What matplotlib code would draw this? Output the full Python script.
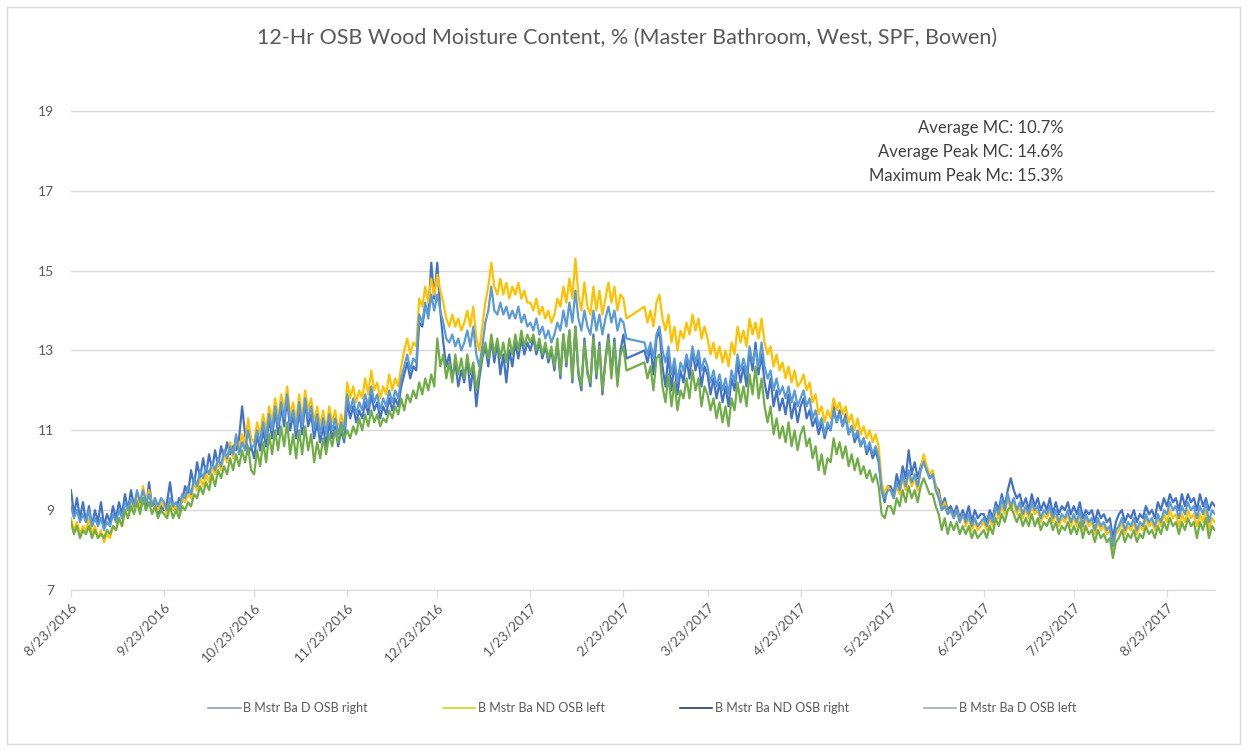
import numpy as np
import pandas as pd
import matplotlib.pyplot as plt
from matplotlib.lines import Line2D
from matplotlib.patches import Rectangle

# daily readings, 8/23/2016 - 9/8/2017 (logger offline 2/25 - 3/1)
day_start = '2016-08-23'
day_end = '2017-09-08'
gap_start = '2017-02-25'
gap_end = '2017-03-01'

d_osb_right = [
    9.5, 8.9, 9.3, 8.8, 9.2, 8.7, 9.1, 8.6, 9.0, 8.7, 9.2, 8.6, 8.9, 8.7, 9.1, 8.8, 9.2, 8.9, 9.4, 9.0, 9.5, 9.1, 9.4, 9.0, 9.3, 9.0, 9.7, 9.1, 9.2, 8.9, 9.1,
    9.0, 9.2, 9.7, 9.1, 9.0, 9.3, 9.2, 9.6, 9.4, 10.0, 9.6, 10.2, 9.8, 10.3, 9.9, 10.4, 10.0, 10.5, 10.1, 10.6, 10.3, 10.7, 10.4, 10.6, 10.5, 10.8, 11.6, 10.9, 10.4, 10.6,
    10.3, 10.9, 10.5, 11.0, 10.6, 11.3, 10.8, 11.5, 10.9, 11.6, 11.1, 11.8, 11.0, 11.4, 10.8, 11.5, 10.9, 11.7, 11.1, 11.4, 10.8, 11.2, 10.7, 11.1, 10.6, 11.2, 10.8, 11.1, 10.6, 11.0, 10.7,
    11.7, 11.3, 11.6, 11.2, 11.5, 11.3, 11.7, 11.4, 11.9, 11.5, 11.7, 11.3, 11.6, 11.4, 11.8, 11.5, 11.8, 11.6, 12.1, 12.4, 12.7, 12.3, 12.6, 12.5, 13.7, 13.6, 14.1, 13.9, 15.2, 14.3,
    15.2, 14.0, 13.2, 12.6, 12.9, 12.3, 12.7, 12.1, 12.5, 12.2, 12.8, 12.0, 12.6, 11.6, 12.3, 12.8, 13.1, 12.6, 13.3, 12.7, 13.2, 12.4, 12.9, 12.2, 13.0, 12.6, 13.2, 12.8, 13.3, 12.9, 13.2,
    13.0, 13.3, 12.9, 13.2, 12.8, 13.1, 12.7, 13.0, 12.5, 13.2, 12.3, 13.4, 12.6, 13.5, 12.2, 13.6, 12.4, 12.0, 13.3, 12.5, 12.1, 13.4, 12.3, 13.2, 11.9, 12.8, 13.4, 12.4, 13.3, 12.2, 13.0,
    13.4, 12.8, 13.0, 12.7, 13.1, 12.4, 13.3, 13.5, 12.6, 12.1, 12.9, 12.0, 12.7, 11.9, 12.5, 12.2, 12.8, 12.3, 13.0, 12.5, 12.8, 12.1, 12.6,
    12.4, 11.9, 12.3, 11.8, 12.2, 11.7, 12.1, 11.6, 12.3, 12.0, 12.7, 12.2, 12.6, 12.1, 13.0, 12.5, 13.2, 12.4, 12.9, 12.2, 11.8, 12.3, 11.6, 12.0, 11.5, 11.8, 11.4, 11.9, 11.3, 11.7, 11.2,
    11.6, 11.8, 11.3, 11.5, 11.1, 11.3, 10.9, 11.2, 10.8, 11.1, 11.0, 11.6, 11.2, 11.5, 11.1, 11.4, 10.9, 11.1, 10.7, 10.9, 10.6, 10.8, 10.4, 10.6, 10.3, 10.5, 10.2, 9.5, 9.2, 9.6,
    9.6, 9.4, 9.9, 9.6, 10.1, 9.8, 10.5, 9.9, 10.2, 9.8, 10.1, 10.3, 10.0, 9.8, 9.9, 9.6, 9.5, 9.1, 9.3, 9.0, 9.1, 8.9, 9.1, 8.8, 9.0, 8.8, 9.1, 8.7, 9.0, 8.8, 8.9,
    8.9, 8.7, 9.0, 8.8, 9.2, 9.0, 9.4, 9.1, 9.5, 9.8, 9.5, 9.3, 9.4, 9.1, 9.3, 9.0, 9.4, 9.1, 9.3, 9.0, 9.2, 9.0, 9.3, 8.9, 9.2, 8.9, 9.1, 9.0, 9.2, 8.9,
    9.1, 8.9, 9.2, 8.8, 9.0, 8.9, 9.0, 8.7, 9.0, 8.8, 8.9, 8.7, 8.8, 8.3, 8.7, 8.9, 9.0, 8.7, 8.9, 8.8, 9.0, 8.7, 8.9, 8.8, 9.1, 8.9, 9.0, 8.8, 9.2, 9.0, 9.3,
    9.1, 9.4, 9.2, 9.3, 9.0, 9.4, 9.1, 9.4, 9.2, 9.3, 9.0, 9.4, 9.1, 9.3, 9.0, 9.2, 9.1,
]

nd_osb_left = [
    8.8, 8.5, 8.7, 8.4, 8.6, 8.5, 8.8, 8.4, 8.6, 8.3, 8.5, 8.2, 8.4, 8.3, 8.6, 8.5, 8.8, 8.6, 9.0, 8.8, 9.2, 9.0, 9.4, 9.1, 9.6, 9.2, 9.5, 9.1, 9.3, 9.0, 9.2,
    9.1, 8.9, 9.2, 9.0, 9.1, 8.9, 9.3, 9.2, 9.4, 9.3, 9.7, 9.5, 9.8, 9.6, 9.9, 9.7, 10.1, 9.9, 10.2, 10.0, 10.4, 10.2, 10.7, 10.3, 10.8, 10.5, 10.9, 10.6, 11.3, 10.8,
    10.7, 11.2, 10.9, 11.4, 11.0, 11.6, 11.2, 11.8, 11.3, 11.9, 11.5, 12.1, 11.4, 11.7, 11.2, 11.9, 11.3, 12.0, 11.5, 11.8, 11.2, 11.6, 11.1, 11.5, 11.0, 11.6, 11.2, 11.5, 11.0, 11.4, 11.1,
    12.2, 11.8, 12.1, 11.7, 12.0, 11.8, 12.3, 11.9, 12.5, 12.0, 12.2, 11.8, 12.1, 11.9, 12.4, 12.0, 12.3, 12.1, 12.6, 13.0, 13.3, 12.9, 13.2, 13.1, 14.3, 14.1, 14.6, 14.2, 14.8, 14.4,
    14.9, 14.5, 14.2, 13.8, 13.6, 13.9, 13.6, 13.8, 13.5, 13.7, 14.0, 13.6, 14.1, 13.3, 13.0, 13.6, 14.2, 14.6, 15.2, 14.6, 14.4, 14.8, 14.4, 14.7, 14.3, 14.6, 14.4, 14.7, 14.3, 14.5, 14.2,
    14.2, 14.0, 14.3, 13.9, 14.1, 13.8, 14.0, 13.7, 13.9, 14.3, 14.1, 14.6, 14.2, 14.8, 14.3, 15.3, 14.4, 14.0, 14.7, 14.1, 13.9, 14.6, 14.0, 14.5, 13.9, 14.3, 14.7, 14.2, 14.6, 14.0, 14.4,
    14.3, 13.8, 14.1, 13.7, 14.0, 13.6, 14.2, 14.4, 13.8, 13.5, 13.9, 13.2, 13.6, 13.0, 13.5, 13.3, 13.7, 13.4, 13.9, 13.5, 13.8, 13.3, 13.6,
    13.3, 12.9, 13.2, 12.8, 13.1, 12.7, 13.0, 12.6, 13.2, 12.9, 13.6, 13.2, 13.5, 13.1, 13.8, 13.4, 13.7, 13.3, 13.8, 13.2, 12.9, 13.1, 12.6, 12.9, 12.5, 12.7, 12.3, 12.6, 12.2, 12.5, 12.1,
    12.2, 12.4, 12.0, 12.2, 11.7, 11.9, 11.4, 11.6, 11.2, 11.5, 11.3, 11.8, 11.5, 11.7, 11.4, 11.6, 11.2, 11.4, 11.0, 11.3, 10.9, 11.1, 10.8, 11.0, 10.7, 10.9, 10.6, 9.7, 9.4, 9.6,
    9.5, 9.3, 9.6, 9.4, 9.8, 9.5, 9.9, 9.6, 9.8, 9.5, 10.0, 10.4, 10.1, 9.9, 10.0, 9.6, 9.4, 9.0, 9.2, 8.9, 9.0, 8.8, 9.0, 8.7, 8.9, 8.6, 8.8, 8.5, 8.7, 8.5, 8.6,
    8.7, 8.5, 8.8, 8.6, 9.0, 8.8, 9.1, 8.9, 9.3, 9.0, 9.2, 8.9, 9.1, 8.8, 9.0, 8.8, 9.1, 8.9, 9.0, 8.7, 8.9, 8.8, 9.0, 8.7, 8.9, 8.6, 8.8, 8.7, 8.9, 8.6,
    8.8, 8.6, 8.9, 8.5, 8.8, 8.6, 8.7, 8.4, 8.7, 8.5, 8.6, 8.4, 8.5, 8.0, 8.4, 8.5, 8.7, 8.4, 8.6, 8.5, 8.7, 8.4, 8.6, 8.5, 8.8, 8.6, 8.7, 8.5, 8.8, 8.6, 8.9,
    8.7, 9.0, 8.8, 8.9, 8.6, 8.9, 8.7, 9.0, 8.8, 8.9, 8.6, 8.9, 8.7, 9.0, 8.5, 8.8, 8.7,
]

nd_osb_right = [
    9.1, 8.8, 9.0, 8.7, 8.9, 8.7, 9.0, 8.6, 8.8, 8.6, 8.8, 8.5, 8.7, 8.6, 8.9, 8.7, 9.0, 8.8, 9.2, 9.0, 9.3, 9.1, 9.5, 9.2, 9.5, 9.2, 9.4, 9.1, 9.3, 9.1, 9.3,
    9.2, 9.0, 9.3, 9.1, 9.2, 9.0, 9.4, 9.3, 9.6, 9.4, 9.8, 9.6, 10.0, 9.8, 10.1, 9.9, 10.2, 10.0, 10.3, 10.1, 10.5, 10.3, 10.6, 10.4, 10.9, 10.4, 10.7, 10.5, 11.0, 10.6,
    10.6, 11.0, 10.7, 11.2, 10.8, 11.4, 11.0, 11.6, 11.1, 11.7, 11.3, 11.9, 11.2, 11.5, 11.0, 11.7, 11.1, 11.8, 11.3, 11.6, 11.0, 11.4, 10.9, 11.3, 10.9, 11.4, 11.0, 11.3, 10.9, 11.2, 11.0,
    11.9, 11.5, 11.8, 11.4, 11.7, 11.5, 11.9, 11.6, 12.1, 11.7, 11.9, 11.5, 11.8, 11.6, 12.0, 11.7, 12.0, 11.8, 12.3, 12.6, 12.9, 12.5, 12.8, 12.7, 13.9, 13.7, 14.2, 13.8, 14.4, 14.0,
    14.4, 14.0, 13.7, 13.3, 13.2, 13.4, 13.1, 13.3, 13.0, 13.2, 13.5, 13.1, 13.6, 12.9, 12.6, 13.1, 13.7, 14.0, 14.6, 14.0, 13.9, 14.2, 13.9, 14.1, 13.8, 14.0, 13.8, 14.1, 13.7, 13.9, 13.6,
    13.7, 13.5, 13.8, 13.4, 13.6, 13.3, 13.5, 13.2, 13.4, 13.7, 13.5, 14.0, 13.6, 14.2, 13.7, 14.5, 13.8, 13.5, 14.0, 13.6, 13.4, 14.0, 13.5, 13.9, 13.4, 13.8, 14.1, 13.7, 14.0, 13.5, 13.8,
    13.7, 13.3, 13.2, 12.9, 13.2, 12.8, 13.4, 13.6, 13.0, 12.7, 13.1, 12.4, 12.8, 12.2, 12.7, 12.5, 12.9, 12.6, 13.1, 12.7, 13.0, 12.5, 12.8,
    12.6, 12.2, 12.5, 12.1, 12.4, 12.0, 12.3, 11.9, 12.5, 12.2, 12.9, 12.5, 12.8, 12.4, 13.1, 12.7, 13.0, 12.6, 13.2, 12.6, 12.3, 12.5, 12.0, 12.3, 11.9, 12.1, 11.8, 12.1, 11.7, 12.0, 11.6,
    11.8, 12.0, 11.6, 11.8, 11.3, 11.5, 11.1, 11.3, 10.9, 11.2, 11.0, 11.5, 11.2, 11.4, 11.1, 11.3, 10.9, 11.1, 10.8, 11.0, 10.6, 10.8, 10.5, 10.7, 10.4, 10.6, 10.3, 9.5, 9.3, 9.5,
    9.5, 9.3, 9.7, 9.5, 9.9, 9.6, 10.0, 9.7, 9.9, 9.6, 10.0, 10.2, 10.0, 9.8, 9.9, 9.5, 9.3, 9.0, 9.1, 8.9, 9.0, 8.8, 9.0, 8.7, 8.9, 8.7, 8.9, 8.6, 8.8, 8.6, 8.7,
    8.8, 8.6, 8.9, 8.7, 9.1, 8.9, 9.3, 9.0, 9.4, 9.1, 9.3, 9.0, 9.2, 8.9, 9.1, 8.9, 9.2, 9.0, 9.1, 8.8, 9.0, 8.9, 9.1, 8.8, 9.0, 8.7, 8.9, 8.8, 9.0, 8.7,
    8.9, 8.7, 9.0, 8.6, 8.9, 8.7, 8.8, 8.5, 8.8, 8.6, 8.7, 8.5, 8.6, 8.1, 8.5, 8.6, 8.8, 8.5, 8.7, 8.6, 8.8, 8.5, 8.7, 8.6, 8.9, 8.7, 8.8, 8.6, 8.9, 8.7, 9.0,
    8.9, 9.2, 9.0, 9.1, 8.8, 9.1, 8.9, 9.2, 9.0, 9.1, 8.8, 9.1, 8.9, 9.2, 8.7, 9.0, 8.9,
]

d_osb_left = [
    8.7, 8.4, 8.6, 8.3, 8.5, 8.4, 8.6, 8.3, 8.5, 8.3, 8.4, 8.3, 8.5, 8.4, 8.6, 8.5, 8.8, 8.6, 9.0, 8.8, 9.1, 8.9, 9.2, 8.9, 9.3, 9.0, 9.2, 8.9, 9.1, 8.8, 9.0,
    8.9, 8.8, 9.1, 8.8, 9.0, 8.8, 9.1, 9.0, 9.2, 9.1, 9.4, 9.3, 9.6, 9.4, 9.7, 9.5, 9.9, 9.6, 10.0, 9.8, 10.1, 9.9, 10.3, 10.0, 10.4, 10.1, 10.5, 10.2, 10.6, 10.0,
    9.9, 10.5, 10.1, 10.7, 10.2, 10.9, 10.4, 11.0, 10.5, 11.1, 10.6, 11.2, 10.4, 10.9, 10.3, 11.0, 10.4, 11.1, 10.5, 10.9, 10.2, 10.7, 10.3, 10.8, 10.4, 10.9, 10.6, 11.0, 10.7, 11.1, 10.8,
    11.0, 10.8, 11.1, 10.9, 11.3, 11.0, 11.4, 11.1, 11.5, 11.2, 11.4, 11.1, 11.3, 11.2, 11.5, 11.3, 11.6, 11.4, 11.8, 11.5, 11.9, 11.7, 12.0, 11.8, 12.2, 11.9, 12.3, 12.0, 12.4, 12.1,
    13.3, 12.6, 12.9, 12.3, 12.7, 12.2, 12.9, 12.4, 12.8, 12.3, 12.9, 12.4, 12.7, 12.0, 12.5, 12.9, 13.2, 12.8, 13.4, 12.9, 13.3, 12.8, 13.2, 12.7, 13.3, 12.9, 13.4, 13.0, 13.5, 13.1, 13.4,
    13.2, 13.4, 13.0, 13.3, 12.9, 13.2, 12.8, 13.1, 12.6, 13.3, 12.4, 13.4, 12.7, 13.5, 12.3, 13.6, 12.5, 12.1, 13.2, 12.4, 12.2, 13.3, 12.4, 13.1, 12.0, 12.7, 13.3, 12.3, 13.2, 12.1, 12.9,
    13.1, 12.5, 12.7, 12.3, 12.6, 12.0, 12.8, 12.9, 12.1, 11.7, 12.4, 11.6, 12.2, 11.5, 12.0, 11.8, 12.3, 11.8, 12.5, 12.0, 12.3, 11.6, 12.1,
    11.9, 11.5, 11.8, 11.3, 11.7, 11.2, 11.6, 11.1, 11.8, 11.5, 12.2, 11.7, 12.1, 11.6, 12.4, 11.9, 12.6, 11.8, 12.3, 11.6, 11.2, 11.6, 10.9, 11.3, 10.8, 11.1, 10.7, 11.2, 10.6, 11.0, 10.5,
    10.9, 11.1, 10.6, 10.8, 10.3, 10.6, 10.0, 10.4, 9.9, 10.3, 10.2, 10.8, 10.4, 10.7, 10.3, 10.6, 10.1, 10.4, 10.0, 10.3, 9.9, 10.1, 9.8, 10.0, 9.7, 9.9, 9.6, 8.9, 8.8, 9.1,
    9.1, 8.9, 9.3, 9.1, 9.5, 9.2, 9.6, 9.3, 9.5, 9.2, 9.6, 9.8, 9.6, 9.4, 9.4, 9.1, 8.9, 8.5, 8.8, 8.4, 8.7, 8.5, 8.7, 8.4, 8.6, 8.4, 8.6, 8.3, 8.5, 8.3, 8.4,
    8.5, 8.3, 8.6, 8.4, 8.8, 8.6, 8.9, 8.7, 9.0, 9.1, 8.9, 8.7, 8.9, 8.6, 8.8, 8.6, 8.9, 8.6, 8.8, 8.5, 8.7, 8.6, 8.8, 8.5, 8.7, 8.4, 8.6, 8.5, 8.7, 8.4,
    8.6, 8.4, 8.7, 8.3, 8.6, 8.4, 8.5, 8.2, 8.5, 8.3, 8.4, 8.2, 8.3, 7.8, 8.2, 8.3, 8.5, 8.2, 8.4, 8.3, 8.5, 8.2, 8.4, 8.3, 8.6, 8.4, 8.5, 8.3, 8.6, 8.4, 8.7,
    8.5, 8.8, 8.6, 8.7, 8.4, 8.7, 8.5, 8.8, 8.6, 8.7, 8.3, 8.7, 8.5, 8.8, 8.3, 8.6, 8.5,
]

series_names = ['B Mstr Ba D OSB right', 'B Mstr Ba ND OSB left',
                'B Mstr Ba ND OSB right', 'B Mstr Ba D OSB left']
line_colors = ['#4472C4', '#FFC000', '#5B9BD5', '#70AD47']
legend_colors = ['#8FA0BC', '#C8DC1A', '#2E3B55', '#A3A9B3']

tick_labels = ['8/23/2016', '9/23/2016', '10/23/2016', '11/23/2016', '12/23/2016',
               '1/23/2017', '2/23/2017', '3/23/2017', '4/23/2017', '5/23/2017',
               '6/23/2017', '7/23/2017', '8/23/2017']

stats_text = ['Average MC: 10.7%', 'Average Peak MC: 14.6%', 'Maximum Peak Mc: 15.3%']

dates = pd.date_range(day_start, day_end, freq='D')
dates = dates[(dates < gap_start) | (dates > gap_end)]

plt.rcParams['font.family'] = ['Lato', 'DejaVu Sans']

fig = plt.figure(figsize=(12.47, 7.51), dpi=100)
fig.patches.append(Rectangle((0.006, 0.009), 0.988, 0.982, transform=fig.transFigure,
                             fill=False, edgecolor='#D9D9D9', linewidth=1.0))

ax = fig.add_axes([0.0569, 0.2144, 0.9174, 0.6378])

all_series = [d_osb_right, nd_osb_left, nd_osb_right, d_osb_left]
for vals, col in zip(all_series, line_colors):
    ax.plot(dates, vals, color=col, linewidth=1.6, solid_joinstyle='round')

ax.set_xlim(dates[0], dates[-1])
ax.set_ylim(7, 19)
ax.set_yticks(np.arange(7, 20, 2))
ax.grid(axis='y', color='#D9D9D9', linewidth=1.0)
ax.set_axisbelow(True)
for s in ['top', 'right', 'left']:
    ax.spines[s].set_visible(False)
ax.spines['bottom'].set_color('#D9D9D9')

ax.set_xticks(pd.to_datetime(tick_labels, format='%m/%d/%Y'))
ax.set_xticklabels(tick_labels, rotation=45, ha='right', rotation_mode='anchor')
ax.tick_params(axis='x', length=5, color='#D9D9D9', labelsize=10, labelcolor='#595959', pad=3)
ax.tick_params(axis='y', length=0, labelsize=10, labelcolor='#595959', pad=12)

fig.text(0.503, 0.949, '12-Hr OSB Wood Moisture Content, % (Master Bathroom, West, SPF, Bowen)',
         ha='center', va='center', fontsize=15.5, color='#595959')

for i, line in enumerate(stats_text):
    fig.text(0.853, 0.829 - i * 0.0315, line, ha='right', va='center',
             fontsize=12, color='#404040')

handles = [Line2D([], [], color=c, linewidth=1.2) for c in legend_colors]
fig.legend(handles, series_names, loc='center', bbox_to_anchor=(0.515, 0.057), ncol=4,
           frameon=False, fontsize=9, labelcolor='#595959', handlelength=2.6,
           handletextpad=0.2, columnspacing=6.0)

fig.savefig('out.png', dpi=100)
